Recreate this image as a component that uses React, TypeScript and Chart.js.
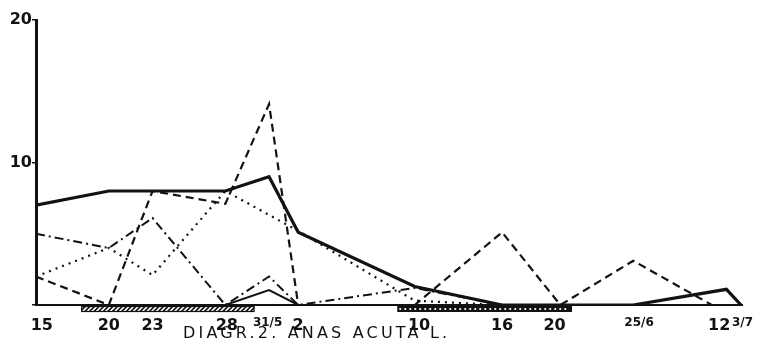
import React, { useEffect, useRef } from 'react';
import { Chart, registerables } from 'chart.js';

Chart.register(...registerables);

// Date tick labels along the time axis (days counted from 15 May)
const tickLabels = ['15', '20', '23', '28', '31/5', '2', '10', '16', '20', '25/6', '12', '3/7'];
const tickDays = [0.4, 5, 8, 13.1, 15.9, 18, 26.3, 32, 35.6, 41.4, 46.9, 48.5];
const smallLabels = ['31/5', '25/6', '3/7'];

// Observation days (from 15 May)
const sampleDays = [0, 5, 8, 13, 16, 18, 26, 32, 36, 41, 46.4, 47.4, 48.4];

// Series values (counts) per observation day
const solidThick = [7, 8, 8, 8, 9, 5.1, 1.3, 0, 0, 0, null, 1.1, 0];
const solidThin = [null, null, null, 0, 1.05, 0, null, null, null, null, null, null, null];
const dashed = [2, 0, 8, 7.1, 14.1, 0, 0, 5.1, 0, 3.1, 0, null, null];
const dotted = [2, 4, 2.1, 8, null, 5.2, 0.3, 0, null, null, null, null, null];
const dashDot = [5, 4, 6.1, 0, 2.0, 0, 1.2, 0, null, null, null, null, null];

// Periods marked under the axis (days from 15 May)
const hatchedPeriod = [3.1, 15.0];
const dottedPeriod = [24.8, 36.8];

const captionText = 'DIAGR.2. ANAS ACUTA L.';

const toPoints = (arr: (number | null)[]) =>
  sampleDays.map((x, i) => ({ x, y: arr[i] }));

export default function App() {
  const ref = useRef<HTMLCanvasElement>(null);

  useEffect(() => {
    if (!ref.current) return;
    const ink = '#121212';
    const family = '"DejaVu Sans", "Liberation Sans", sans-serif';

    const periodsPlugin = {
      id: 'periods',
      afterDraw(chart: any) {
        const { ctx, chartArea, scales } = chart;
        const xs = scales.x;
        const top = chartArea.bottom + 1;
        const h = 6;
        ctx.save();
        // hatched bar
        let x0 = xs.getPixelForValue(hatchedPeriod[0]);
        let x1 = xs.getPixelForValue(hatchedPeriod[1]);
        ctx.fillStyle = '#fff';
        ctx.fillRect(x0, top, x1 - x0, h);
        ctx.strokeStyle = ink;
        ctx.lineWidth = 1.2;
        ctx.strokeRect(x0 + 0.5, top + 0.5, x1 - x0 - 1, h - 1);
        ctx.save();
        ctx.beginPath();
        ctx.rect(x0, top, x1 - x0, h);
        ctx.clip();
        ctx.lineWidth = 1.7;
        ctx.beginPath();
        for (let px = x0 - h; px < x1 + h; px += 4.6) {
          ctx.moveTo(px, top + h);
          ctx.lineTo(px + h, top);
        }
        ctx.stroke();
        ctx.restore();
        // dotted bar
        x0 = xs.getPixelForValue(dottedPeriod[0]);
        x1 = xs.getPixelForValue(dottedPeriod[1]);
        ctx.fillStyle = ink;
        ctx.fillRect(x0, top, x1 - x0, h);
        ctx.fillStyle = '#fff';
        for (let px = x0 + 3; px < x1 - 2; px += 5) {
          ctx.beginPath();
          ctx.arc(px, top + h / 2, 1.1, 0, Math.PI * 2);
          ctx.fill();
        }
        ctx.restore();
      },
    };

    const captionPlugin = {
      id: 'caption',
      afterDraw(chart: any) {
        const { ctx, chartArea } = chart;
        ctx.save();
        ctx.font = '16px ' + family;
        ctx.fillStyle = ink;
        ctx.textBaseline = 'alphabetic';
        const target = 264;
        const w = ctx.measureText(captionText).width;
        const spacing = Math.max(0, (target - w) / (captionText.length - 1));
        (ctx as any).letterSpacing = spacing.toFixed(2) + 'px';
        ctx.fillText(captionText, chartArea.left + 147, chartArea.bottom + 33);
        ctx.restore();
      },
    };

    const lineDs = (data: (number | null)[], width: number, dash: number[]) => ({
      data: toPoints(data),
      borderColor: ink,
      borderWidth: width,
      borderDash: dash,
      pointRadius: 0,
      fill: false,
      spanGaps: true,
      tension: 0,
      borderJoinStyle: 'miter' as const,
    });

    const chart = new Chart(ref.current, {
      type: 'line',
      data: {
        datasets: [
          lineDs(solidThick, 3.2, []),
          lineDs(solidThin, 2, []),
          lineDs(dashed, 2.2, [8, 5]),
          lineDs(dotted, 2.2, [2, 5]),
          lineDs(dashDot, 2, [9, 4, 2, 4]),
        ],
      },
      options: {
        animation: false,
        responsive: true,
        maintainAspectRatio: false,
        layout: { padding: { top: 20, right: 15, left: 0, bottom: 0 } },
        plugins: {
          legend: { display: false },
          tooltip: { enabled: false },
          title: { display: false },
        },
        scales: {
          x: {
            type: 'linear',
            min: 0,
            max: 48.5,
            grid: { display: false, drawTicks: false },
            border: { display: true, color: ink, width: 2 },
            afterBuildTicks: (scale: any) => {
              scale.ticks = tickDays.map((v) => ({ value: v }));
            },
            afterFit: (scale: any) => {
              scale.height = 41;
            },
            ticks: {
              autoSkip: false,
              maxRotation: 0,
              padding: 11,
              color: ink,
              callback: (_v: any, i: number) => tickLabels[i],
              font: (c: any) => ({
                family,
                weight: 'bold',
                size: smallLabels.includes(tickLabels[c.index]) ? 12 : 16,
              }),
            },
          },
          y: {
            min: 0,
            max: 20,
            grid: {
              drawOnChartArea: false,
              drawTicks: true,
              tickLength: 4,
              color: ink,
              lineWidth: 1.5,
            },
            border: { display: true, color: ink, width: 3 },
            afterFit: (scale: any) => {
              scale.width = 36;
            },
            ticks: {
              stepSize: 10,
              padding: 0,
              color: ink,
              font: { family, size: 16, weight: 'bold' },
              callback: (v: any) => (v === 0 ? '' : String(v)),
            },
          },
        },
      },
      plugins: [periodsPlugin, captionPlugin],
    });

    return () => chart.destroy();
  }, []);

  return (
    <div
      style={{
        position: 'absolute',
        left: 0,
        top: 0,
        width: 764,
        height: 346,
        background: '#fff',
      }}
    >
      <canvas ref={ref} />
    </div>
  );
}
